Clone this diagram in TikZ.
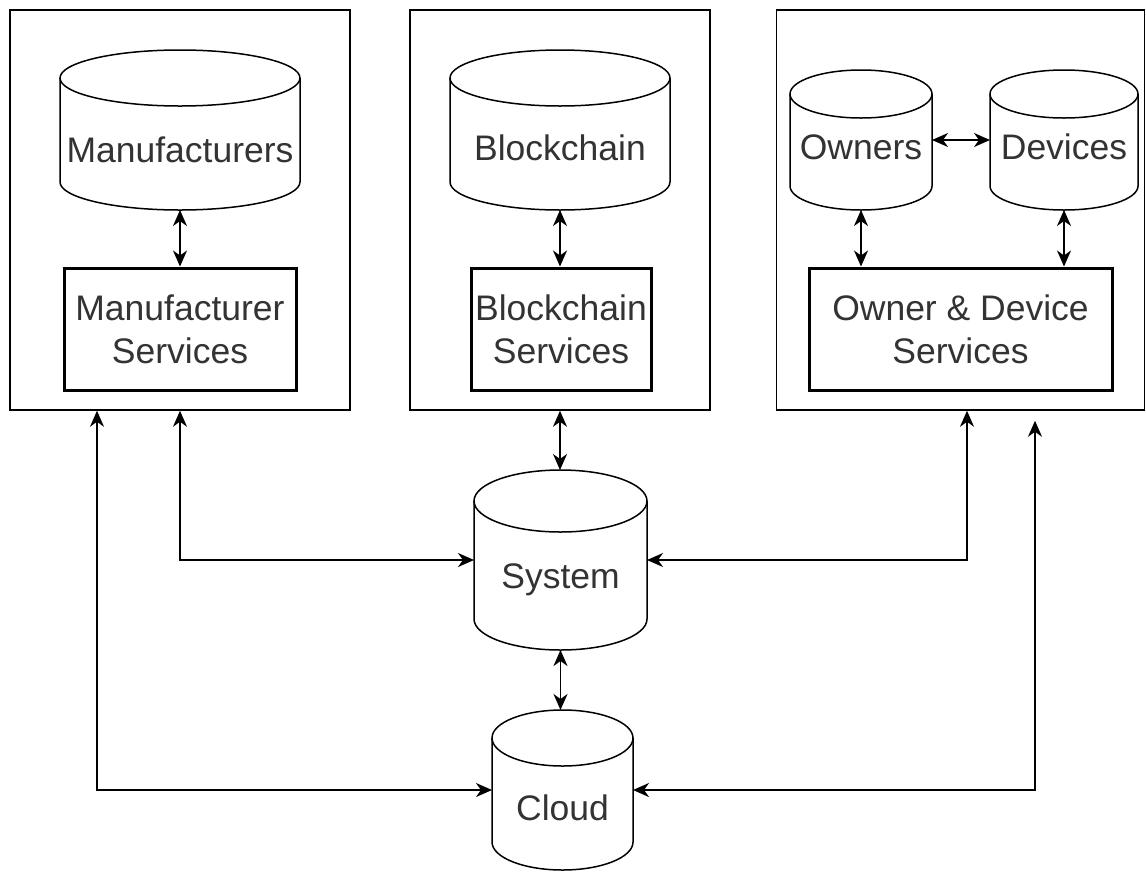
\documentclass[tikz,border=0pt]{standalone}
\usepackage{fontspec}
\setmainfont{Liberation Sans}
\usetikzlibrary{arrows.meta}
\tikzset{
  frame/.style={draw, line width=1.5pt, inner sep=0pt},
  svc/.style={draw, line width=3pt, align=center, inner sep=0pt, text=black!80,
    font=\fontsize{35.5}{43}\selectfont},
  cylnode/.style={inner sep=0pt, outer sep=0pt},
  cylline/.style={line width=1.5pt},
  lbl/.style={text=black!80, font=\fontsize{35.5}{43}\selectfont},
  link/.style={line width=1.7pt,
    {Stealth[length=16pt,width=14pt,inset=5pt]}-{Stealth[length=16pt,width=14pt,inset=5pt]}}
}
% name, x1, y1, x2, y2, ry, text y, text
\newcommand\mycyl[8]{%
  \node[cylnode, minimum width={#4-#2}, minimum height={#5-#3}] (#1) at ({(#2+#4)/2},{-(#3+#5)/2}) {};
  \draw[cylline] ({(#2+#4)/2},{-#3-#6}) ellipse [x radius={(#4-#2)/2}, y radius=#6];
  \draw[cylline] (#2,{-#3-#6}) -- (#2,{-#5+#6}) arc[start angle=180, end angle=360, x radius={(#4-#2)/2}, y radius=#6] -- (#4,{-#3-#6});
  \node[lbl] at ({(#2+#4)/2},{-#7}) {#8};
}
\begin{document}
\begin{tikzpicture}[x=1pt,y=1pt]
\useasboundingbox (0,0) rectangle (1146,-871);

% outer frames
\node[frame, minimum width=340pt, minimum height=400pt] (f1) at (180,-210) {};
\node[frame, minimum width=300pt, minimum height=400pt] (f2) at (560,-210) {};
\node[frame, minimum width=368pt, minimum height=400pt] (f3) at (960.5,-210) {};

% cylinders
\mycyl{manu}{60}{50}{300}{210}{28}{150}{Manufacturers}
\mycyl{chain}{450}{50}{670}{210}{28}{148}{Blockchain}
\mycyl{owners}{790}{70}{932}{210}{24}{147}{Owners}
\mycyl{devices}{990}{70}{1138}{210}{24}{147}{Devices}
\mycyl{system}{474}{470}{647}{650}{31}{580}{System}
\mycyl{cloud}{492}{710}{633}{870}{28}{808}{Cloud}

% service boxes
\node[svc, minimum width=232pt, minimum height=122pt] (msrv) at (180,-329) {Manufacturer\\Services};
\node[svc, minimum width=180pt, minimum height=122pt] (csrv) at (561,-329) {Blockchain\\Services};
\node[svc, minimum width=303pt, minimum height=122pt] (osrv) at (960.5,-329) {Owner \& Device\\Services};

% connectors inside frames
\draw[link] (manu.south) -- (manu.south |- msrv.north);
\draw[link] (chain.south) -- (chain.south |- csrv.north);
\draw[link] (owners.east) -- (devices.west);
\draw[link] (owners.south) -- (owners.south |- osrv.north);
\draw[link] (devices.south) -- (devices.south |- osrv.north);

% central connectors
\draw[link] (f2.south) -- (f2.south |- system.north);
\draw[link] (system.south) -- (system.south |- cloud.north);

% outer connectors
\coordinate (a1) at ([xshift=-83pt]f1.south);
\coordinate (a3) at ([xshift=6.5pt]f3.south);
\coordinate (a4) at ([xshift=74.5pt,yshift=-10pt]f3.south);
\draw[link] (f1.south) |- (system.west);
\draw[link] (a1) |- (cloud.west);
\draw[link] (a3) |- (system.east);
\draw[link] (a4) |- (cloud.east);
\end{tikzpicture}
\end{document}
